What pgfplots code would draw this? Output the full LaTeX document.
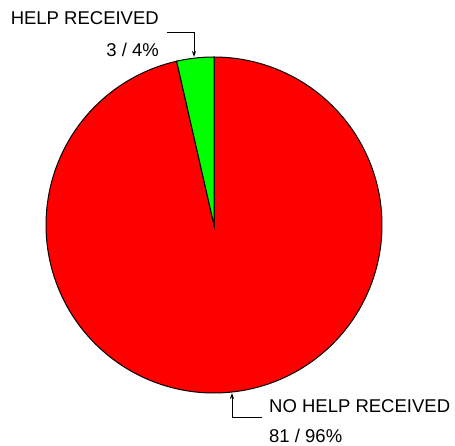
\documentclass[border=0pt]{standalone}
\usepackage{pgfplots}
\pgfplotsset{compat=1.18}
\usetikzlibrary{arrows.meta}
\usepackage{fontspec}
\setmainfont{Liberation Sans}
\definecolor{pieRed}{RGB}{255,0,0}
\definecolor{pieGreen}{RGB}{0,255,0}
\begin{document}
\begin{tikzpicture}
% data: HELP RECEIVED = 3, NO HELP RECEIVED = 81 (total 84)
\pgfmathsetmacro{\help}{3}
\pgfmathsetmacro{\nohelp}{81}
\pgfmathsetmacro{\total}{\help+\nohelp}
\pgfmathsetmacro{\angA}{90+360*\help/\total}
\begin{axis}[
  scale only axis, x=1pt, y=1pt,
  xmin=0, xmax=455, ymin=0, ymax=445,
  hide axis, clip=false,
]
\addplot[fill=pieRed, draw=black, line width=1pt, domain=\angA:450, samples=180, variable=\t]
  ({214+168*cos(\t)},{220+168*sin(\t)}) -- (axis cs:214,220) -- cycle;
\addplot[fill=pieGreen, draw=black, line width=1pt, domain=90:\angA, samples=20, variable=\t]
  ({214+168*cos(\t)},{220+168*sin(\t)}) -- (axis cs:214,220) -- cycle;
\node[anchor=base east, font=\fontsize{18.5}{20}\selectfont, inner sep=0pt] at (axis cs:159,420) {HELP RECEIVED};
\node[anchor=base east, font=\fontsize{18.5}{20}\selectfont, inner sep=0pt] at (axis cs:159,388) {3 / 4\%};
\node[anchor=base west, font=\fontsize{18.5}{20}\selectfont, inner sep=0pt] at (axis cs:269,33) {NO HELP RECEIVED};
\node[anchor=base west, font=\fontsize{18.5}{20}\selectfont, inner sep=0pt] at (axis cs:269,3) {81 / 96\%};
\draw[line width=1pt, -{Stealth[length=6pt,width=4pt]}] (axis cs:167,412) -- (axis cs:194,412) -- (axis cs:194,388);
\draw[line width=1pt, -{Stealth[length=6pt,width=4pt]}] (axis cs:262,28) -- (axis cs:232,28) -- (axis cs:232,52);
\end{axis}
\useasboundingbox (0,0) rectangle (455pt,445pt);
\end{tikzpicture}
\end{document}
